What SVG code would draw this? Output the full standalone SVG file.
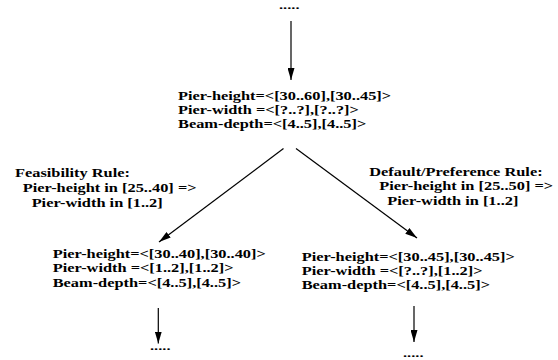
<svg xmlns="http://www.w3.org/2000/svg" width="558" height="360" viewBox="0 0 558 360">
<style>
text { font-family: "Liberation Serif", "Times New Roman", serif; font-weight: bold; font-size: 12.5px; fill: #000; }
text.dots { font-size: 10px; }
.conn line { stroke: #000; stroke-width: 1.2; fill: none; marker-end: url(#arrow); }
</style>
<defs>
<marker id="arrow" viewBox="0 0 12 7" refX="12" refY="3.5" markerWidth="12" markerHeight="7" markerUnits="userSpaceOnUse" orient="auto">
<path d="M0,0 L12,3.5 L0,7 z" fill="#000"/>
</marker>
</defs>
<rect width="558" height="360" fill="#fff"/>
<g id="top-dots" transform="translate(279,9.3) scale(1.64,1)"><text class="dots" x="0" y="0">.....</text></g>
<g id="node-root" transform="translate(178,99.5) scale(1.31,1)">
<text x="0" y="0">Pier-height=&lt;[30..60],[30..45]&gt;</text>
<text x="0" y="14.5">Pier-width =&lt;[?..?],[?..?]&gt;</text>
<text x="0" y="29">Beam-depth=&lt;[4..5],[4..5]&gt;</text>
</g>
<g id="rule-feasibility" transform="translate(15,177) scale(1.31,1)">
<text x="0" y="0">Feasibility Rule:</text>
<text x="5.9" y="15.3">Pier-height in [25..40] =&gt;</text>
<text x="12.7" y="30.5">Pier-width in [1..2]</text>
</g>
<g id="rule-default" transform="translate(369.3,175.5) scale(1.31,1)">
<text x="0" y="0">Default/Preference Rule:</text>
<text x="7.6" y="15">Pier-height in [25..50] =&gt;</text>
<text x="13.7" y="30">Pier-width in [1..2]</text>
</g>
<g id="node-left" transform="translate(52.7,258) scale(1.31,1)">
<text x="0" y="0">Pier-height=&lt;[30..40],[30..40]&gt;</text>
<text x="0" y="14.5">Pier-width =&lt;[1..2],[1..2]&gt;</text>
<text x="0" y="29">Beam-depth=&lt;[4..5],[4..5]&gt;</text>
</g>
<g id="node-right" transform="translate(301.7,260.5) scale(1.31,1)">
<text x="0" y="0">Pier-height=&lt;[30..45],[30..45]&gt;</text>
<text x="0" y="14.5">Pier-width =&lt;[?..?],[1..2]&gt;</text>
<text x="0" y="29">Beam-depth=&lt;[4..5],[4..5]&gt;</text>
</g>
<g id="dots-left" transform="translate(150,349.5) scale(1.64,1)"><text class="dots" x="0" y="0">.....</text></g>
<g id="dots-right" transform="translate(403,357) scale(1.64,1)"><text class="dots" x="0" y="0">.....</text></g>
<g id="connectors" class="conn">
<line x1="291" y1="21" x2="291" y2="80"/>
<line x1="283.5" y1="148.5" x2="159" y2="242"/>
<line x1="296" y1="148.5" x2="417" y2="238"/>
<line x1="158.3" y1="308" x2="158.3" y2="343.5"/>
<line x1="414" y1="306" x2="414" y2="342"/>
</g>
</svg>
